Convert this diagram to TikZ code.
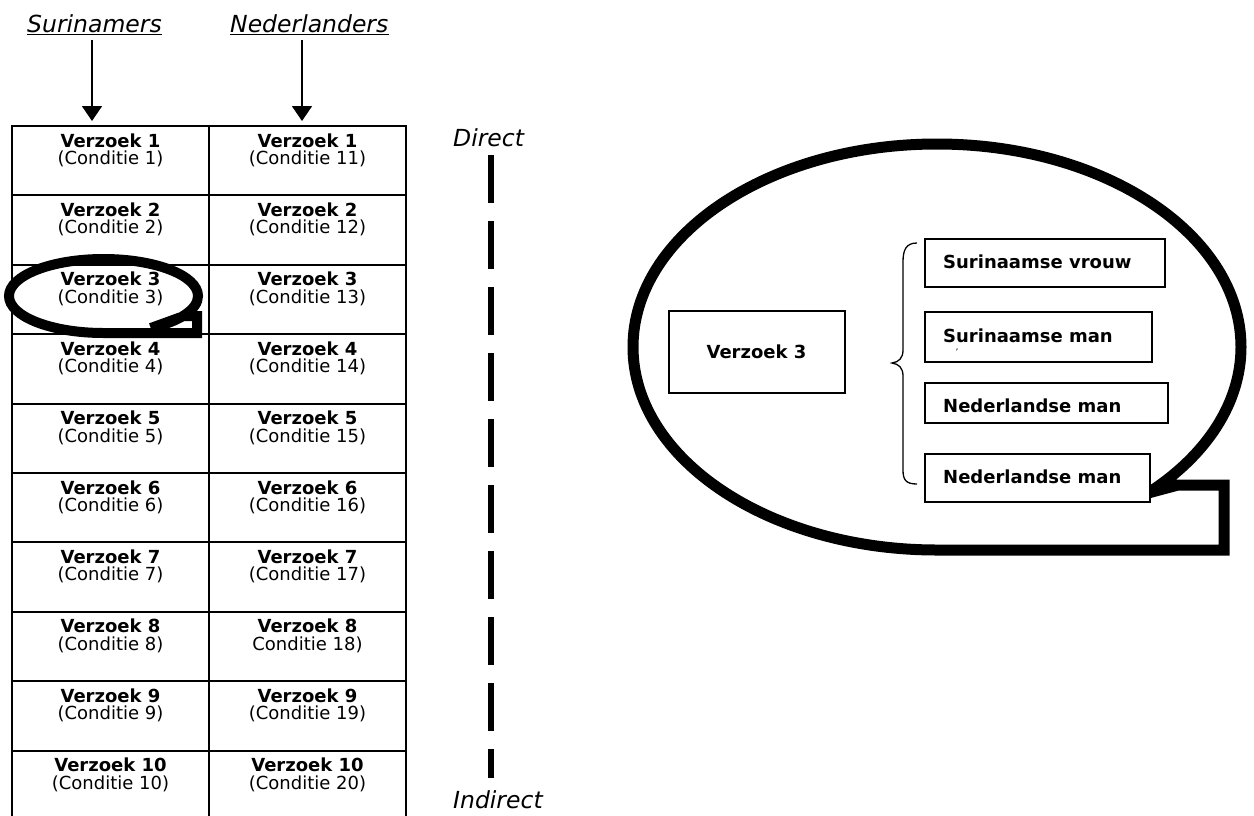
\documentclass[tikz,border=0pt]{standalone}
\usepackage{fontspec}
\setmainfont{DejaVu Sans}
\usetikzlibrary{arrows.meta}
\begin{document}
\begin{tikzpicture}[x=1pt,y=-1pt,
  cellbox/.style={draw,line width=2pt,minimum width=197pt,minimum height=69.4pt,inner sep=0pt,outer sep=0pt},
  vtext/.style={font=\fontsize{18}{18}\selectfont\bfseries,inner sep=0pt,anchor=base},
  ctext/.style={font=\fontsize{18}{18}\selectfont,inner sep=0pt,anchor=base},
  itext/.style={font=\fontsize{23.5}{24}\selectfont\itshape,inner sep=0pt,anchor=base west},
  btext/.style={font=\fontsize{18}{18}\selectfont\bfseries,inner sep=0pt,anchor=base west},
  rbox/.style={draw,fill=white,line width=2pt,inner sep=0pt,outer sep=0pt},
  arr/.style={line width=1.7pt,-{Triangle[width=20pt,length=15pt]}},
  bubble/.style={line width=11pt,line join=miter}
]
\useasboundingbox (0,0) rectangle (1254,815);
\clip (0,0) rectangle (1254,815);
\fill[white] (0,0) rectangle (1254,815);

% table
\foreach \i/\rc in {1/{(Conditie 11)},2/{(Conditie 12)},3/{(Conditie 13)},4/{(Conditie 14)},5/{(Conditie 15)},6/{(Conditie 16)},7/{(Conditie 17)},8/{Conditie 18)},9/{(Conditie 19)},10/{(Conditie 20)}} {
  \pgfmathsetmacro\rowtop{126+69.4*(\i-1)}
  \node[cellbox] (L\i) at (110.5,\rowtop+34.7) {};
  \node[cellbox] (R\i) at (307.5,\rowtop+34.7) {};
  \node[vtext] (vl\i) at (110.5,\rowtop+21) {Verzoek \i};
  \node[ctext] (cl\i) at (110.5,\rowtop+38.5) {(Conditie \i)};
  \node[vtext] (vr\i) at (307.5,\rowtop+21) {Verzoek \i};
  \node[ctext] (cr\i) at (307.5,\rowtop+38.5) {\rc};
}

% headers
\node[itext] (hs) at (27,32) {Surinamers};
\node[itext] (hn) at (230,32) {Nederlanders};
\draw[line width=1.5pt] ([yshift=-2.5pt]hs.base west) -- ([yshift=-2.5pt]hs.base east);
\draw[line width=1.5pt] ([yshift=-2.5pt]hn.base west) -- ([yshift=-2.5pt]hn.base east);
\coordinate (a1s) at (92,40);
\coordinate (a1e) at (92,121);
\coordinate (a2s) at (302,40);
\coordinate (a2e) at (302,121);
\draw[arr] (a1s) -- (a1e);
\draw[arr] (a2s) -- (a2e);

% direct - indirect scale
\node[itext] (dir) at (453,146) {Direct};
\node[itext] (ind) at (453,808) {Indirect};
\coordinate (d1) at (491,155);
\coordinate (d2) at (491,778);
\draw[line width=6pt,dash pattern=on 48pt off 18pt] (d1) -- (d2);

% small callout around Verzoek 3
\coordinate (stip) at (150.75,328.04);
\draw[line width=10pt,line join=miter] (stip) -- (184,316) -- (197,316) -- (197,333) -- (103.5,333) arc[start angle=90,end angle=420,x radius=94.5,y radius=37];

% big callout
\coordinate (btip) at (1148.2,493);
\draw[bubble] (btip) -- (1178,485) -- (1224,485) -- (1224,550) -- (937,550) arc[start angle=90,end angle=406,x radius=304,y radius=203];

\node[rbox,minimum width=176pt,minimum height=82pt,font=\fontsize{18}{18}\selectfont\bfseries] (v3) at (756.5,352) {Verzoek 3};

\node[rbox,minimum width=240pt,minimum height=48pt] (b1) at (1045,263) {};
\node[rbox,minimum width=227pt,minimum height=50pt] (b2) at (1038.5,337) {};
\node[rbox,minimum width=243pt,minimum height=40pt] (b3) at (1046.5,403) {};
\node[rbox,minimum width=225pt,minimum height=48pt] (b4) at (1037.5,478) {};
\node[btext] (t1) at (943,268) {Surinaamse vrouw};
\node[btext] (t2) at (943,342) {Surinaamse man};
\node[btext] (t3) at (943,412) {Nederlandse man};
\node[btext] (t4) at (943,483) {Nederlandse man};
\node[font=\fontsize{9}{9}\selectfont,inner sep=0pt] (tick) at (957,352) {'};

% brace
\coordinate (brt) at (917,243);
\coordinate (brb) at (917,484);
\draw[line width=1.3pt] (brt) .. controls (906,243) and (903,250) .. (903,262) -- (903,350) .. controls (903,358) and (899,362) .. (892,363) .. controls (899,364) and (903,368) .. (903,376) -- (903,470) .. controls (903,480) and (906,484) .. (brb);
\end{tikzpicture}
\end{document}
